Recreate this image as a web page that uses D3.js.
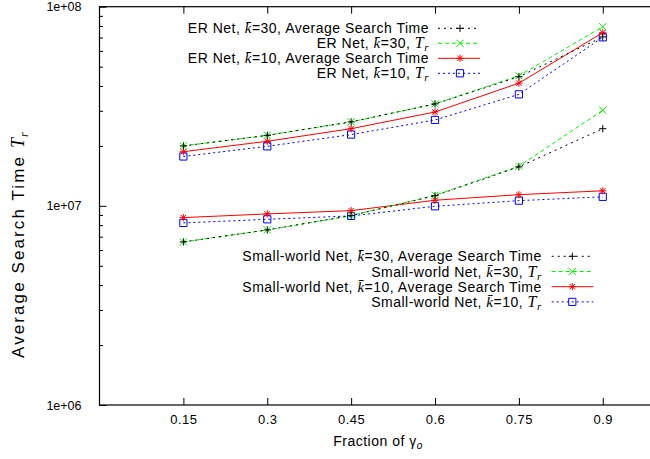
<!DOCTYPE html>
<html><head><meta charset="utf-8">
<script src="https://cdn.jsdelivr.net/npm/d3@7"></script>
<style>
body{margin:0;background:#fff}
svg{display:block}
text{font-family:"Liberation Sans",Arial,Helvetica,sans-serif;fill:#000}
</style>
</head><body>
<svg id="chart" width="650" height="459"></svg>
<script>
// ---- data ----
const fractions = [0.15, 0.3, 0.45, 0.6, 0.75, 0.9];
const xTickLabels = ["0.15", "0.3", "0.45", "0.6", "0.75", "0.9"];
const yTickValues = [1e6, 1e7, 1e8];
const yTickLabels = ["1e+06", "1e+07", "1e+08"];

const erK30Ast = [2.0e7, 2.26e7, 2.64e7, 3.25e7, 4.45e7, 7.05e7];
const erK30Tr  = [2.0e7, 2.26e7, 2.64e7, 3.25e7, 4.5e7, 7.93e7];
const erK10Ast = [1.87e7, 2.11e7, 2.44e7, 2.96e7, 4.13e7, 7.41e7];
const erK10Tr  = [1.77e7, 1.99e7, 2.28e7, 2.70e7, 3.63e7, 7.02e7];
const swK30Ast = [6.59e6, 7.57e6, 8.93e6, 1.125e7, 1.57e7, 2.44e7];
const swK30Tr  = [6.59e6, 7.57e6, 8.93e6, 1.13e7, 1.58e7, 3.02e7];
const swK10Ast = [8.73e6, 9.11e6, 9.46e6, 1.067e7, 1.138e7, 1.19e7];
const swK10Tr  = [8.21e6, 8.56e6, 8.90e6, 9.95e6, 1.062e7, 1.11e7];

const seriesNets = ["ER Net", "ER Net", "ER Net", "ER Net", "Small-world Net", "Small-world Net", "Small-world Net", "Small-world Net"];
const seriesK = ["30", "30", "10", "10", "30", "30", "10", "10"];
const seriesKind = ["ast", "tr", "ast", "tr", "ast", "tr", "ast", "tr"];
const seriesValues = [erK30Ast, erK30Tr, erK10Ast, erK10Tr, swK30Ast, swK30Tr, swK10Ast, swK10Tr];

// ---- style ----
const styles = {
  ast30: {color: "#000000", dash: "2,4", marker: "plus"},
  tr30:  {color: "#00f000", dash: "4,3", marker: "cross"},
  ast10: {color: "#ff0000", dash: null, marker: "star"},
  tr10:  {color: "#0000ff", dash: "2,3", marker: "square"}
};

const svg = d3.select("#chart");
const pLeft = 99.5, pRight = 658.7, pTop = 6.7, pBottom = 405;

const x = d3.scaleLinear().domain([0, 1]).range([pLeft, pRight]);
const y = d3.scaleLog().domain([1e6, 1e8]).range([pBottom, pTop]);

const minorVals = [];
[1e6, 1e7].forEach(d => { for (let m = 2; m <= 9; m++) minorVals.push(d * m); });

const axisG = svg.append("g");
axisG.append("g").attr("transform", `translate(${pLeft},0)`)
  .call(d3.axisLeft(y).tickValues(yTickValues).tickSizeInner(-7).tickSizeOuter(0)
    .tickPadding(18).tickFormat((d, i) => yTickLabels[i]))
  .call(g => g.select(".domain").remove())
  .call(g => g.selectAll("text").attr("font-size", 12.5).attr("font-family", "Liberation Sans, Arial, sans-serif"));
axisG.append("g").attr("transform", `translate(${pLeft},0)`)
  .call(d3.axisLeft(y).tickValues(minorVals).tickSizeInner(-3.5).tickSizeOuter(0).tickFormat(""))
  .call(g => g.select(".domain").remove());
axisG.append("g").attr("transform", `translate(0,${pBottom})`)
  .call(d3.axisBottom(x).tickValues(fractions).tickSizeInner(-7).tickSizeOuter(0)
    .tickPadding(10).tickFormat((d, i) => xTickLabels[i]))
  .call(g => g.select(".domain").remove())
  .call(g => g.selectAll("text").attr("font-size", 13).attr("letter-spacing", 0.5).attr("font-family", "Liberation Sans, Arial, sans-serif"));
axisG.append("g").attr("transform", `translate(0,${pTop})`)
  .call(d3.axisTop(x).tickValues(fractions).tickSizeInner(-7).tickSizeOuter(0).tickFormat(""))
  .call(g => g.select(".domain").remove());
axisG.selectAll("line").attr("stroke", "#000").attr("stroke-width", 1);

svg.append("rect").attr("x", pLeft).attr("y", pTop).attr("width", pRight - pLeft).attr("height", pBottom - pTop)
  .attr("fill", "none").attr("stroke", "#000").attr("stroke-width", 1.2);

const yt = svg.append("text").attr("transform", "translate(24,358) rotate(-90)")
  .attr("font-size", 17).attr("letter-spacing", 2.1);
yt.append("tspan").text("Average Search Time  ");
yt.append("tspan").attr("font-family", "Liberation Serif, Times New Roman, serif").attr("font-style", "italic").attr("font-size", 18).attr("letter-spacing", 1).text("T");
yt.append("tspan").attr("font-family", "Liberation Serif, Times New Roman, serif").attr("font-style", "italic").attr("font-size", 12).attr("letter-spacing", 0).attr("dy", 4).text("r");

const xt = svg.append("text").attr("x", 378).attr("y", 446).attr("text-anchor", "middle")
  .attr("font-size", 14).attr("letter-spacing", 0.5);
xt.append("tspan").text("Fraction of \u03b3");
xt.append("tspan").attr("font-size", 10).attr("font-style", "italic").attr("dy", 3).text("o");

function markerPath(type) {
  const s = 3.6;
  if (type === "plus") return `M${-s},0H${s}M0,${-s}V${s}`;
  if (type === "cross") return `M${-s},${-s}L${s},${s}M${-s},${s}L${s},${-s}`;
  if (type === "star") return `M${-s},0H${s}M0,${-s}V${s}M${-s*0.75},${-s*0.75}L${s*0.75},${s*0.75}M${-s*0.75},${s*0.75}L${s*0.75},${-s*0.75}`;
  return `M${-s},${-s}H${s}V${s}H${-s}Z`;
}

const line = d3.line().x(d => x(d[0])).y(d => y(d[1]));

const order = [3, 2, 1, 0, 7, 6, 5, 4];
order.forEach(i => {
  const st = styles[seriesKind[i] + seriesK[i]];
  const pts = fractions.map((f, j) => [f, seriesValues[i][j]]);
  const g = svg.append("g");
  g.append("path").attr("d", line(pts)).attr("fill", "none").attr("stroke", st.color)
    .attr("stroke-width", 1).attr("stroke-dasharray", st.dash);
  g.selectAll("path.m").data(pts).join("path").attr("class", "m")
    .attr("transform", d => `translate(${x(d[0])},${y(d[1])})`)
    .attr("d", markerPath(st.marker)).attr("fill", "none").attr("stroke", st.color).attr("stroke-width", 1);
});

function legend(indices, textX, lineX1, lineX2, markX, y0, dy) {
  indices.forEach((i, r) => {
    const st = styles[seriesKind[i] + seriesK[i]];
    const yy = y0 + r * dy;
    const t = svg.append("text").attr("x", textX).attr("y", yy + 5).attr("text-anchor", "end")
      .attr("font-size", 14).attr("letter-spacing", 0.5);
    t.append("tspan").text(seriesNets[i] + ", ");
    t.append("tspan").attr("font-family", "Liberation Serif, Times New Roman, serif").attr("font-style", "italic").attr("font-size", 15).text("k\u0304");
    if (seriesKind[i] === "ast") {
      t.append("tspan").text("=" + seriesK[i] + ", Average Search Time");
    } else {
      t.append("tspan").text("=" + seriesK[i] + ", ");
      t.append("tspan").attr("font-family", "Liberation Serif, Times New Roman, serif").attr("font-style", "italic").attr("font-size", 16).text("T");
      t.append("tspan").attr("font-family", "Liberation Serif, Times New Roman, serif").attr("font-style", "italic").attr("font-size", 11).attr("dy", 3).text("r");
    }
    svg.append("line").attr("x1", lineX1).attr("x2", lineX2).attr("y1", yy).attr("y2", yy)
      .attr("stroke", st.color).attr("stroke-width", 1).attr("stroke-dasharray", st.dash);
    svg.append("path").attr("transform", `translate(${markX},${yy})`).attr("d", markerPath(st.marker))
      .attr("fill", "none").attr("stroke", st.color).attr("stroke-width", 1);
  });
}
legend([0, 1, 2, 3], 429, 438, 480, 460, 28.3, 15);
legend([4, 5, 6, 7], 541.7, 551.7, 593.3, 572.3, 256.3, 15.2);
</script>
</body></html>
